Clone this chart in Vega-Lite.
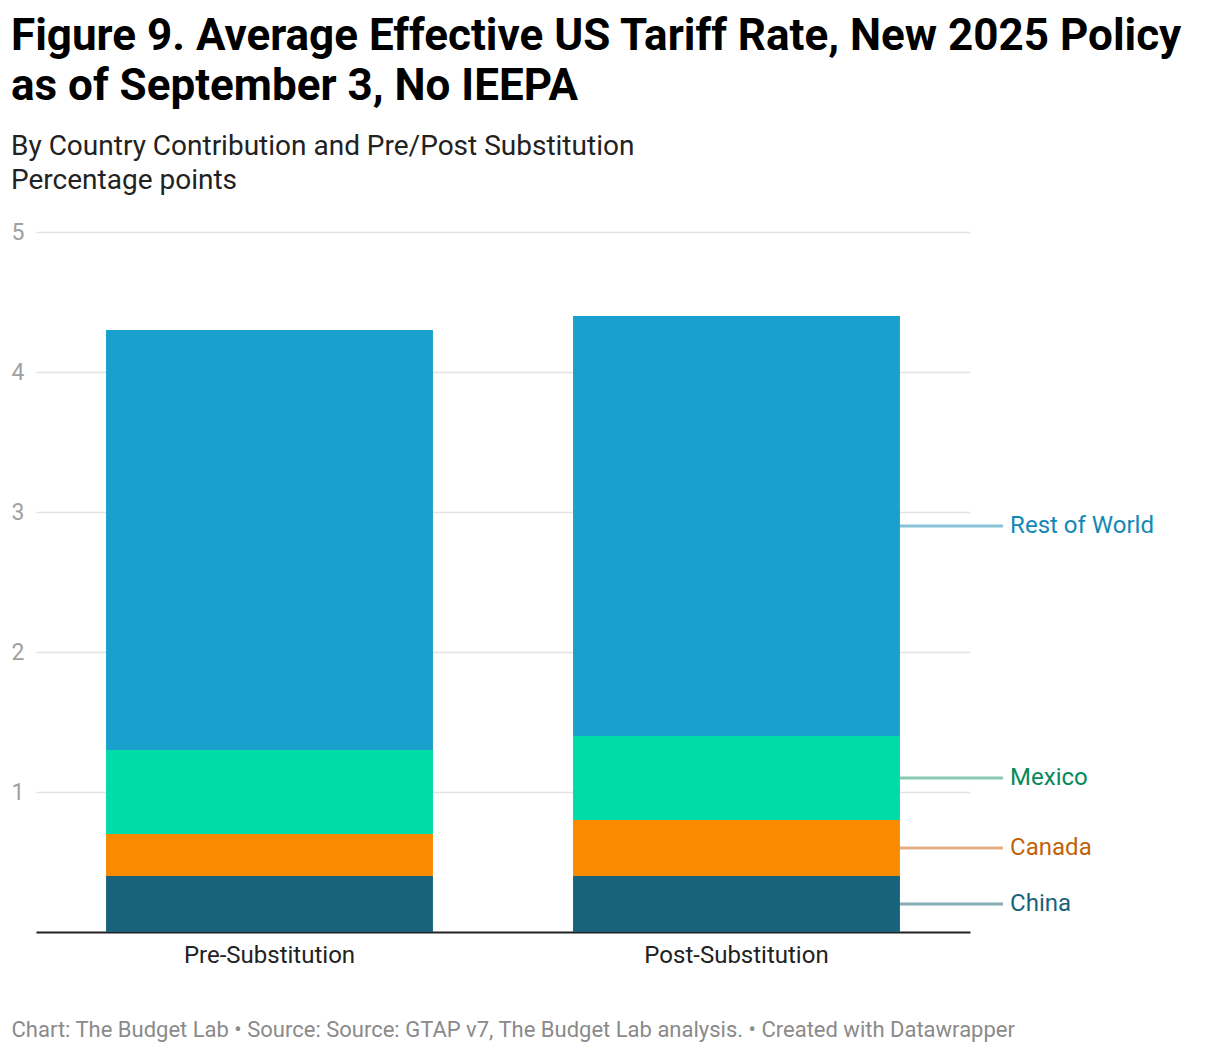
{
  "$schema": "https://vega.github.io/schema/vega-lite/v6.json",
  "width": 934,
  "height": 700,
  "autosize": {"type": "none"},
  "padding": {"left": 36, "top": 232, "right": 250, "bottom": 122},
  "background": "white",
  "config": {
    "view": {"stroke": null},
    "font": "Roboto"
  },
  "title": {
    "text": ["Figure 9. Average Effective US Tariff Rate, New 2025 Policy", "as of September 3, No IEEPA"],
    "subtitle": ["By Country Contribution and Pre/Post Substitution", "Percentage points"],
    "anchor": "start",
    "frame": "group",
    "dx": -25,
    "offset": 26,
    "font": "Roboto",
    "fontSize": 44,
    "fontWeight": "bold",
    "color": "#000000",
    "lineHeight": 50,
    "subtitleFont": "Roboto",
    "subtitleFontSize": 28,
    "subtitleColor": "#222222",
    "subtitleLineHeight": 34,
    "subtitlePadding": 24
  },
  "datasets": {
    "bars": [
      {"scenario": "Pre-Substitution", "country": "China", "rank": 1, "value": 0.4},
      {"scenario": "Pre-Substitution", "country": "Canada", "rank": 2, "value": 0.3},
      {"scenario": "Pre-Substitution", "country": "Mexico", "rank": 3, "value": 0.6},
      {"scenario": "Pre-Substitution", "country": "Rest of World", "rank": 4, "value": 3.0},
      {"scenario": "Post-Substitution", "country": "China", "rank": 1, "value": 0.4},
      {"scenario": "Post-Substitution", "country": "Canada", "rank": 2, "value": 0.4},
      {"scenario": "Post-Substitution", "country": "Mexico", "rank": 3, "value": 0.6},
      {"scenario": "Post-Substitution", "country": "Rest of World", "rank": 4, "value": 3.0}
    ],
    "labels": [
      {"scenario": "Post-Substitution", "country": "China", "mid": 0.2},
      {"scenario": "Post-Substitution", "country": "Canada", "mid": 0.6},
      {"scenario": "Post-Substitution", "country": "Mexico", "mid": 1.1},
      {"scenario": "Post-Substitution", "country": "Rest of World", "mid": 2.9}
    ]
  },
  "resolve": {"scale": {"color": "independent"}},
  "layer": [
    {
      "data": {"name": "bars"},
      "mark": {"type": "bar"},
      "encoding": {
        "x": {
          "field": "scenario",
          "type": "nominal",
          "scale": {"domain": ["Pre-Substitution", "Post-Substitution"], "paddingInner": 0.3, "paddingOuter": 0.15},
          "axis": {
            "title": "Chart: The Budget Lab • Source: Source: GTAP v7, The Budget Lab analysis. • Created with Datawrapper",
            "titleFont": "Roboto",
            "titleFontSize": 22,
            "titleFontWeight": "normal",
            "titleColor": "#8a8a8a",
            "titleAnchor": "start",
            "titleAlign": "left",
            "titleBaseline": "alphabetic",
            "titleX": -25,
            "titleY": 104,
            "titleLimit": 1200,
            "labelAngle": 0,
            "labelFont": "Roboto",
            "labelFontSize": 24,
            "labelColor": "#222222",
            "labelPadding": 11,
            "labelLimit": 500,
            "ticks": false,
            "domain": true,
            "domainColor": "#222222",
            "domainWidth": 2
          }
        },
        "y": {
          "field": "value",
          "type": "quantitative",
          "stack": "zero",
          "scale": {"domain": [0, 5], "nice": false},
          "axis": {
            "title": null,
            "values": [1, 2, 3, 4, 5],
            "format": "d",
            "labelFont": "Roboto",
            "labelFontSize": 23,
            "labelColor": "#a0a0a0",
            "labelAlign": "left",
            "labelBaseline": "middle",
            "labelPadding": 25,
            "ticks": false,
            "domain": false,
            "grid": true,
            "gridColor": "#e3e3e3",
            "gridWidth": 1.5
          }
        },
        "color": {
          "field": "country",
          "type": "nominal",
          "scale": {
            "domain": ["China", "Canada", "Mexico", "Rest of World"],
            "range": ["#18627c", "#f88b00", "#00dca8", "#1aa0cc"]
          },
          "legend": null
        },
        "order": {"field": "rank", "type": "quantitative", "sort": "ascending"}
      }
    },
    {
      "data": {"name": "labels"},
      "mark": {"type": "rule", "strokeWidth": 3},
      "encoding": {
        "x": {"field": "scenario", "type": "nominal", "bandPosition": 1},
        "x2": {"field": "scenario", "bandPosition": 1.315},
        "y": {"field": "mid", "type": "quantitative"},
        "color": {
          "field": "country",
          "type": "nominal",
          "scale": {
            "domain": ["China", "Canada", "Mexico", "Rest of World"],
            "range": ["#88a9b6", "#e3ae85", "#88c9b0", "#86c3d6"]
          },
          "legend": null
        }
      }
    },
    {
      "data": {"name": "labels"},
      "mark": {"type": "text", "align": "left", "baseline": "middle", "font": "Roboto", "fontSize": 24},
      "encoding": {
        "x": {"field": "scenario", "type": "nominal", "bandPosition": 1.337},
        "y": {"field": "mid", "type": "quantitative"},
        "text": {"field": "country"},
        "color": {
          "field": "country",
          "type": "nominal",
          "scale": {
            "domain": ["China", "Canada", "Mexico", "Rest of World"],
            "range": ["#18627c", "#c0630a", "#078a5a", "#1388b5"]
          },
          "legend": null
        }
      }
    }
  ]
}
